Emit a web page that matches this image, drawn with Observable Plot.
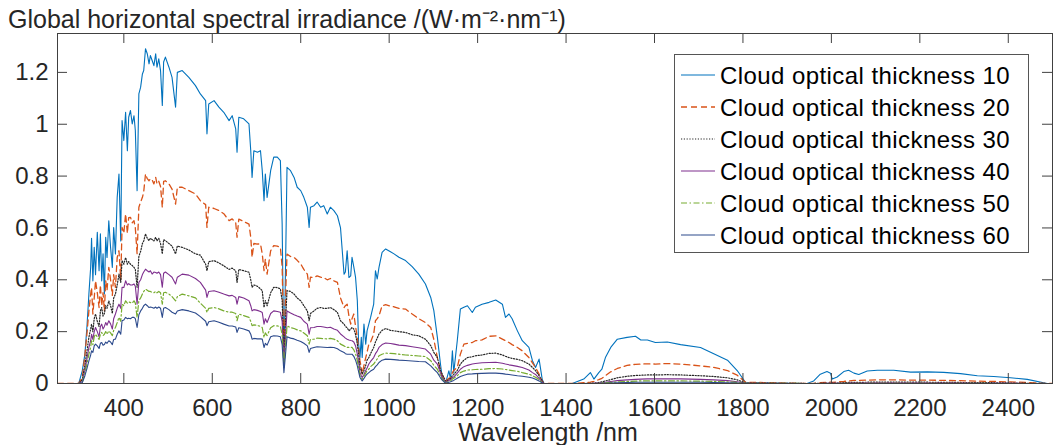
<!DOCTYPE html>
<html><head><meta charset="utf-8">
<script src="https://cdn.jsdelivr.net/npm/d3@7"></script>
<script src="https://cdn.jsdelivr.net/npm/@observablehq/plot@0.6"></script>
<style>
body{margin:0;background:#fff;}
#wrap{position:relative;width:1053px;height:445px;font-family:"Liberation Sans",Arial,Helvetica,sans-serif;}
#legend{position:absolute;left:674px;top:54px;}
</style></head><body><div id="wrap"></div>
<script>
// ---------- data ----------
const wavelength = [
250,298,306,312,317,321,325,327,330,333,336,340,344,347,350,353,356,359,362,366,
370,374,377,381,385,389,393,396,400,404,408,411,415,419,423,426,430,434,438,442,
445,449,453,457,460,464,468,472,475,479,483,487,490,494,502,509,517,521,532,547,562,573,
585,588,592,604,615,626,638,645,653,656,660,671,683,687,690,694,702,709,713,717,
720,724,732,739,747,754,758,762,766,769,777,785,792,800,807,815,819,822,830,837,
845,852,860,867,875,883,890,
898,901,905,909,913,916,920,924,928,931,934,937,939,943,947,950,954,958,965,969,
973,977,984,992,1003,1011,1022,1037,1052,1067,1082,1094,1101,1109,1116,1120,1128,1135,1139,1143,
1146,1154,1161,1169,1177,1188,1195,1210,1226,1241,1256,1263,1271,1278,1290,1301,1316,1324,1331,1339,1346,1350,
1414,1440,1455,1463,1474,1481,1489,1501,1516,1538,1557,1569,1584,1602,1629,1659,1704,1734,1765,1787,
1806,1945,1960,1975,1990,1998,2002,2013,2028,2039,2051,2062,2081,2104,2141,2179,2217,2254,2292,2330,
2367,2405,2443,2488,2500
];

const cot10 = [
0,0,0.049,0.113,0.229,0.345,0.448,0.56,0.396,0.525,0.42,0.583,0.435,0.577,0.396,0.5,0.345,0.564,0.486,0.628,
0.525,0.448,0.602,0.5,0.718,0.808,0.55,1.014,0.937,1.046,0.898,1.027,1.053,1.001,1.033,0.976,0.744,1.117,1.143,1.194,
1.207,1.291,1.272,1.233,1.265,1.246,1.226,1.272,1.22,1.252,1.207,1.072,1.24,1.259,1.22,1.181,1.066,1.2,1.207,1.181,1.149,1.117,
1.091,0.963,1.078,1.091,1.066,1.046,1.014,1.033,0.982,0.892,1.027,1.021,1.001,0.898,0.795,0.898,0.892,0.898,0.821,0.705,
0.808,0.718,0.821,0.873,0.873,0.86,0.615,0.062,0.487,0.834,0.821,0.795,0.757,0.744,0.718,0.68,0.602,0.68,0.686,0.7,
0.68,0.686,0.654,0.68,0.667,0.647,0.6,
0.422,0.43,0.512,0.409,0.415,0.487,0.45,0.409,0.319,0.152,0.1,0.178,0.1,0.229,0.152,0.203,0.229,0.255,0.306,0.435,
0.403,0.448,0.506,0.519,0.508,0.5,0.487,0.474,0.451,0.422,0.384,0.332,0.281,0.178,0.075,0.023,0.004,0.049,0.017,0.126,
0.042,0.165,0.287,0.294,0.3,0.274,0.294,0.306,0.313,0.322,0.306,0.255,0.268,0.25,0.203,0.165,0.139,0.088,0.062,0.094,0.017,0,
0,0.017,0.042,0.017,0.042,0.055,0.1,0.139,0.171,0.178,0.182,0.168,0.168,0.158,0.16,0.15,0.139,0.115,0.09,0.05,
0.004,0,0.01,0.036,0.046,0.04,0.017,0.025,0.046,0.051,0.04,0.035,0.048,0.051,0.051,0.044,0.045,0.043,0.038,0.03,
0.027,0.022,0.016,0,0
];

const cot20 = [
0,0,0.023,0.11,0.2,0.28,0.345,0.37,0.268,0.33,0.396,0.35,0.293,0.38,0.3,0.35,0.28,0.396,0.36,0.448,
0.4,0.34,0.42,0.371,0.486,0.512,0.4,0.602,0.58,0.654,0.58,0.64,0.641,0.62,0.628,0.6,0.5,0.68,0.7,0.718,
0.74,0.808,0.79,0.782,0.79,0.785,0.77,0.795,0.77,0.78,0.76,0.679,0.78,0.782,0.77,0.75,0.692,0.757,0.757,0.744,0.731,0.705,
0.69,0.602,0.68,0.675,0.667,0.655,0.628,0.635,0.62,0.564,0.634,0.625,0.615,0.564,0.487,0.54,0.538,0.538,0.5,0.435,
0.48,0.422,0.512,0.532,0.53,0.525,0.45,0.12,0.35,0.499,0.49,0.486,0.475,0.461,0.44,0.422,0.371,0.41,0.409,0.415,
0.41,0.408,0.4,0.405,0.396,0.39,0.33,
0.293,0.3,0.306,0.26,0.229,0.25,0.268,0.22,0.178,0.13,0.088,0.06,0.036,0.07,0.1,0.12,0.152,0.16,0.191,0.242,
0.25,0.261,0.3,0.304,0.298,0.296,0.29,0.287,0.268,0.25,0.235,0.216,0.17,0.1,0.05,0.03,0.01,0.02,0.023,0.042,
0.05,0.062,0.113,0.152,0.155,0.158,0.165,0.168,0.182,0.184,0.171,0.165,0.158,0.15,0.139,0.126,0.1,0.08,0.062,0.036,0.01,0,
0,0.003,0.005,0.008,0.015,0.02,0.03,0.045,0.058,0.07,0.074,0.075,0.076,0.075,0.077,0.075,0.068,0.062,0.05,0.032,
0.005,0,0,0.003,0.005,0.005,0.004,0.006,0.008,0.01,0.012,0.012,0.013,0.014,0.014,0.013,0.013,0.012,0.011,0.009,
0.008,0.006,0.004,0,0
];

const cot30 = [
0,0,0.015,0.07,0.13,0.178,0.21,0.229,0.2,0.25,0.268,0.24,0.22,0.28,0.293,0.26,0.27,0.3,0.29,0.319,
0.3,0.27,0.33,0.345,0.38,0.422,0.39,0.474,0.46,0.486,0.46,0.47,0.46,0.455,0.448,0.44,0.371,0.49,0.51,0.54,
0.55,0.577,0.56,0.551,0.56,0.555,0.55,0.564,0.55,0.56,0.54,0.5,0.555,0.551,0.54,0.53,0.5,0.53,0.525,0.515,0.5,0.495,
0.46,0.435,0.47,0.474,0.465,0.454,0.44,0.445,0.435,0.39,0.44,0.435,0.429,0.4,0.371,0.38,0.375,0.365,0.358,0.293,
0.32,0.3,0.35,0.371,0.37,0.365,0.32,0.1,0.25,0.358,0.355,0.345,0.33,0.319,0.3,0.28,0.242,0.27,0.28,0.29,
0.293,0.29,0.29,0.293,0.285,0.274,0.242,
0.229,0.22,0.215,0.203,0.21,0.216,0.21,0.19,0.152,0.11,0.062,0.05,0.036,0.05,0.07,0.09,0.1,0.115,0.139,0.16,
0.175,0.191,0.205,0.212,0.205,0.203,0.2,0.197,0.188,0.184,0.171,0.146,0.12,0.1,0.05,0.036,0.008,0.015,0.02,0.03,
0.035,0.05,0.075,0.09,0.1,0.103,0.107,0.11,0.116,0.117,0.11,0.105,0.1,0.097,0.093,0.088,0.075,0.062,0.05,0.03,0.01,0,
0,0,0.001,0.002,0.004,0.006,0.01,0.015,0.022,0.028,0.031,0.032,0.033,0.033,0.034,0.033,0.03,0.027,0.022,0.014,
0.002,0,0,0.001,0.002,0.002,0.002,0.002,0.003,0.004,0.004,0.004,0.005,0.005,0.005,0.005,0.005,0.004,0.004,0.003,
0.003,0.002,0.001,0,0
];

const cot40 = [
0,0,0.008,0.05,0.1,0.139,0.165,0.19,0.17,0.2,0.216,0.2,0.18,0.22,0.229,0.21,0.22,0.235,0.225,0.242,
0.23,0.21,0.25,0.268,0.29,0.306,0.29,0.371,0.37,0.396,0.38,0.385,0.38,0.38,0.384,0.375,0.306,0.39,0.4,0.42,
0.43,0.441,0.435,0.43,0.435,0.422,0.43,0.428,0.425,0.43,0.42,0.371,0.425,0.43,0.42,0.41,0.384,0.41,0.422,0.418,0.405,0.39,
0.36,0.332,0.355,0.358,0.352,0.345,0.338,0.34,0.332,0.306,0.335,0.33,0.319,0.3,0.28,0.285,0.282,0.278,0.274,0.229,
0.25,0.235,0.27,0.28,0.278,0.275,0.24,0.075,0.19,0.28,0.272,0.265,0.26,0.255,0.24,0.229,0.19,0.215,0.216,0.22,
0.22,0.218,0.215,0.217,0.21,0.205,0.191,
0.18,0.175,0.171,0.168,0.166,0.165,0.16,0.145,0.113,0.08,0.042,0.03,0.023,0.035,0.05,0.06,0.075,0.085,0.1,0.115,
0.125,0.139,0.15,0.156,0.154,0.152,0.148,0.146,0.142,0.138,0.133,0.113,0.09,0.075,0.04,0.023,0.004,0.012,0.015,0.023,
0.025,0.04,0.055,0.065,0.07,0.075,0.077,0.08,0.081,0.082,0.078,0.075,0.072,0.07,0.066,0.062,0.052,0.042,0.035,0.02,0.005,0,
0,0,0,0.001,0.002,0.003,0.005,0.008,0.011,0.014,0.016,0.017,0.018,0.018,0.018,0.018,0.016,0.014,0.011,0.007,
0.001,0,0,0,0.001,0.001,0.001,0.001,0.001,0.002,0.002,0.002,0.002,0.002,0.002,0.002,0.002,0.002,0.002,0.001,
0.001,0.001,0,0,0
];

const cot50 = [
0,0,0.005,0.04,0.08,0.113,0.14,0.165,0.15,0.18,0.19,0.18,0.17,0.19,0.197,0.185,0.19,0.2,0.19,0.203,
0.195,0.185,0.205,0.216,0.235,0.255,0.24,0.306,0.3,0.319,0.31,0.315,0.312,0.31,0.319,0.31,0.255,0.32,0.33,0.345,
0.355,0.364,0.36,0.355,0.355,0.351,0.35,0.355,0.35,0.355,0.35,0.306,0.35,0.352,0.345,0.335,0.319,0.335,0.345,0.338,0.33,0.31,
0.29,0.274,0.29,0.293,0.288,0.28,0.275,0.275,0.27,0.242,0.268,0.262,0.255,0.24,0.223,0.226,0.224,0.22,0.216,0.178,
0.195,0.185,0.215,0.223,0.222,0.22,0.19,0.062,0.15,0.222,0.216,0.212,0.207,0.203,0.195,0.184,0.152,0.17,0.171,0.175,
0.174,0.173,0.172,0.174,0.171,0.165,0.152,
0.145,0.142,0.139,0.139,0.139,0.139,0.13,0.115,0.088,0.06,0.03,0.022,0.017,0.028,0.04,0.05,0.055,0.065,0.075,0.085,
0.095,0.107,0.113,0.117,0.116,0.115,0.113,0.11,0.108,0.106,0.104,0.088,0.07,0.055,0.03,0.017,0.001,0.008,0.01,0.017,
0.02,0.03,0.042,0.048,0.052,0.053,0.054,0.055,0.057,0.058,0.056,0.054,0.052,0.05,0.047,0.042,0.036,0.03,0.024,0.015,0.003,0,
0,0,0,0,0.001,0.002,0.003,0.004,0.006,0.008,0.009,0.01,0.01,0.01,0.01,0.01,0.009,0.008,0.006,0.004,
0.001,0,0,0,0,0,0,0,0.001,0.001,0.001,0.001,0.001,0.001,0.001,0.001,0.001,0.001,0.001,0.001,
0,0,0,0,0
];

const cot60 = [
0,0,0.003,0.03,0.06,0.087,0.11,0.126,0.12,0.145,0.152,0.145,0.135,0.155,0.158,0.148,0.15,0.16,0.155,0.165,
0.16,0.15,0.17,0.171,0.19,0.203,0.19,0.242,0.245,0.255,0.25,0.252,0.25,0.255,0.255,0.25,0.216,0.265,0.28,0.29,
0.3,0.306,0.3,0.293,0.295,0.293,0.29,0.295,0.29,0.295,0.29,0.255,0.29,0.293,0.285,0.275,0.268,0.28,0.285,0.28,0.272,0.258,
0.24,0.223,0.238,0.242,0.236,0.229,0.222,0.222,0.218,0.197,0.215,0.21,0.203,0.19,0.171,0.174,0.172,0.172,0.171,0.139,
0.155,0.148,0.18,0.184,0.183,0.18,0.15,0.042,0.12,0.18,0.175,0.172,0.167,0.162,0.155,0.145,0.12,0.135,0.139,0.142,
0.141,0.14,0.139,0.14,0.139,0.134,0.126,
0.12,0.115,0.113,0.113,0.113,0.113,0.105,0.09,0.068,0.045,0.023,0.015,0.01,0.02,0.03,0.036,0.042,0.048,0.055,0.065,
0.072,0.081,0.09,0.094,0.093,0.092,0.09,0.089,0.087,0.085,0.084,0.068,0.055,0.042,0.022,0.013,0,0.005,0.007,0.01,
0.012,0.02,0.027,0.032,0.036,0.037,0.038,0.039,0.04,0.04,0.038,0.036,0.035,0.033,0.03,0.028,0.024,0.021,0.016,0.01,0.002,0,
0,0,0,0,0,0.001,0.001,0.002,0.003,0.004,0.005,0.005,0.005,0.005,0.005,0.005,0.005,0.004,0.003,0.002,
0,0,0,0,0,0,0,0,0,0,0,0,0,0,0,0,0,0,0,0,
0,0,0,0,0
];

const seriesNames = ["Cloud optical thickness 10","Cloud optical thickness 20","Cloud optical thickness 30",
  "Cloud optical thickness 40","Cloud optical thickness 50","Cloud optical thickness 60"];
const xTickValues = [400,600,800,1000,1200,1400,1600,1800,2000,2200,2400];
const yTickValues = [0,0.2,0.4,0.6,0.8,1,1.2];
const titleText = "Global horizontal spectral irradiance /(W\u00B7m\u207B\u00B2\u00B7nm\u207B\u00B9)";
const xLabelText = "Wavelength /nm";

// ---------- styles ----------
const seriesValues = [cot10, cot20, cot30, cot40, cot50, cot60];
const styles = [
  {stroke:"#0072BD", dash:null, w:1.1},
  {stroke:"#D95319", dash:"6,4", w:1.3},
  {stroke:"#262626", dash:"1.2,1.6", w:1.2},
  {stroke:"#7E2F8E", dash:null, w:1.1},
  {stroke:"#77AC30", dash:"6,2.5,1.5,2.5", w:1.2},
  {stroke:"#2C4A8C", dash:null, w:1.1}
];
const W=1053,H=445,mL=57,mR=1,mT=33,mB=62;
const innerW=W-mL-mR, innerH=H-mT-mB;
const axisColor="#404040", textColor="#262626";
const font='"Liberation Sans",Arial,Helvetica,sans-serif';

const lineMarks = seriesValues.map((vals,i)=>Plot.line(vals, {
  x: wavelength, y: vals, stroke: styles[i].stroke, strokeWidth: styles[i].w,
  strokeDasharray: styles[i].dash, strokeLinejoin:"round", clip:true
}));

const plot = Plot.plot({
  width:W, height:H, marginLeft:mL, marginRight:mR, marginTop:mT, marginBottom:mB,
  style:{fontFamily:font, fontSize:"24px", color:textColor, background:"#fff", overflow:"visible"},
  x:{domain:[250,2500]},
  y:{domain:[0,1.35]},
  marks:[
    ...lineMarks,
    Plot.tickX(xTickValues, {x:d=>d, insetTop: innerH-10, stroke:axisColor}),
    Plot.tickX(xTickValues, {x:d=>d, insetBottom: innerH-10, stroke:axisColor}),
    Plot.tickY(yTickValues, {y:d=>d, insetRight: innerW-10, stroke:axisColor}),
    Plot.tickY(yTickValues, {y:d=>d, insetLeft: innerW-10, stroke:axisColor}),
    Plot.frame({stroke:axisColor}),
    Plot.axisX({ticks:xTickValues, tickSize:0, tickPadding:15, tickFormat:d=>String(d), label:null, fontSize:24, fill:textColor}),
    Plot.axisY({ticks:yTickValues, tickSize:0, tickPadding:9, tickFormat:d=>String(d), label:null, fontSize:24, fill:textColor})
  ]
});
document.getElementById("wrap").appendChild(plot);

const svg = d3.select(plot);
svg.append("text").attr("x",8).attr("y",28).attr("text-anchor","start")
  .style("font-family",font).style("font-size","25px")
  .attr("fill",textColor).text(titleText);
svg.append("text").attr("x",548).attr("y",441).attr("text-anchor","middle")
  .style("font-family",font).style("font-size","25px")
  .attr("fill",textColor).text(xLabelText);

// ---------- legend ----------
const lg = d3.select("#wrap").append("svg").attr("id","legend")
  .attr("width",355).attr("height",199);
lg.append("rect").attr("x",0.5).attr("y",0.5).attr("width",354).attr("height",198)
  .attr("fill","#fff").attr("stroke","#555");
seriesNames.forEach((name,i)=>{
  const cy = 21 + i*32;
  lg.append("line").attr("x1",7).attr("x2",41).attr("y1",cy).attr("y2",cy)
    .attr("stroke",styles[i].stroke).attr("stroke-width",styles[i].w)
    .attr("stroke-dasharray",styles[i].dash);
  lg.append("text").attr("x",46).attr("y",cy+8.5).attr("text-anchor","start")
    .style("font-family",font).style("font-size","24px").style("letter-spacing","0.43px")
    .attr("fill","#000").text(name);
});
</script></body></html>
